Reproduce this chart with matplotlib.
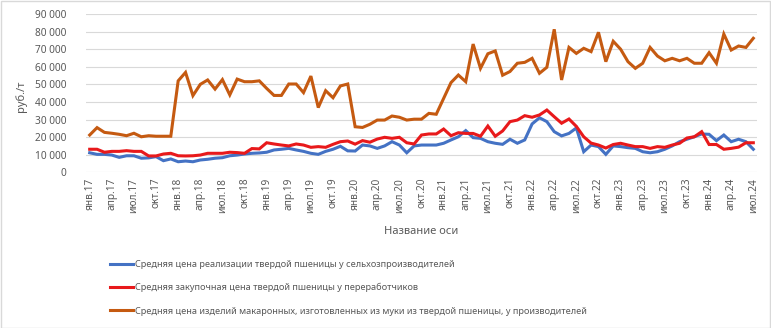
import numpy as np
import matplotlib.pyplot as plt
from matplotlib.ticker import FuncFormatter
from matplotlib.patches import Rectangle

plt.rcParams['font.family'] = ['Noto Sans', 'DejaVu Sans']

# monthly series, Jan 2017 - Jul 2024, rub per tonne
tick_labels = ['янв.17', 'апр.17', 'июл.17', 'окт.17',
               'янв.18', 'апр.18', 'июл.18', 'окт.18',
               'янв.19', 'апр.19', 'июл.19', 'окт.19',
               'янв.20', 'апр.20', 'июл.20', 'окт.20',
               'янв.21', 'апр.21', 'июл.21', 'окт.21',
               'янв.22', 'апр.22', 'июл.22', 'окт.22',
               'янв.23', 'апр.23', 'июл.23', 'окт.23',
               'янв.24', 'апр.24', 'июл.24']

farm_price = [11100, 10200, 10200, 9800, 8500, 9400, 9400, 8000, 8200, 8900, 6600, 7600,
              6000, 6400, 6000, 7000, 7400, 8000, 8300, 9400, 9800, 10400, 10800, 11000,
              11400, 12700, 13100, 13600, 12700, 11900, 10800, 10200, 11900, 13100, 14800, 12200,
              12100, 15500, 15000, 13600, 15000, 17400, 15500, 11100, 15000, 15500, 15500, 15500,
              16500, 18400, 20200, 23700, 19700, 19300, 17400, 16500, 15900, 18800, 16500, 18400,
              27500, 31000, 28800, 23100, 20700, 22100, 25200, 11700, 15500, 14600, 10200, 15000,
              14600, 14000, 13600, 11700, 11100, 11700, 13100, 15000, 17400, 18800, 20200, 21800,
              21600, 18000, 21200, 17400, 18800, 17400, 13100]

processor_price = [13100, 13100, 11400, 11900, 11900, 12300, 11900, 11900, 9300, 9300, 10400, 10800,
                   9400, 9300, 9400, 9800, 10800, 10800, 10800, 11400, 11200, 10800, 13500, 13300,
                   16800, 16100, 15500, 15000, 16100, 15500, 14200, 14600, 14200, 15900, 17400, 17800,
                   16000, 18000, 17100, 18900, 19900, 19300, 19900, 16800, 16100, 21200, 21800, 21800,
                   24600, 20800, 22500, 22100, 22100, 20500, 26300, 20500, 23500, 28800, 29700, 32200,
                   31300, 32600, 35400, 31600, 27900, 30300, 26100, 20200, 16600, 15500, 13800, 15800,
                   16500, 15500, 14600, 14600, 13600, 14600, 14200, 15500, 16500, 19500, 20200, 23100,
                   15800, 15800, 13100, 13600, 14300, 16800, 16800]

pasta_price = [21200, 25400, 22700, 22200, 21600, 20800, 22200, 20200, 20800, 20500, 20500, 20500,
               52000, 56800, 43600, 50000, 52500, 47300, 52700, 44000, 53000, 51500, 51500, 52000,
               47700, 43700, 43700, 50200, 50200, 45300, 54700, 36800, 46400, 42400, 49100, 50200,
               25900, 25500, 27300, 29700, 29700, 32000, 31300, 29700, 30200, 30200, 33500, 33000,
               42000, 51000, 55300, 51500, 72900, 59100, 67400, 69000, 55200, 57300, 62000, 62500,
               64800, 56300, 59700, 81300, 52500, 71000, 67600, 70500, 68600, 79600, 62900, 74500,
               70000, 62900, 59100, 62000, 71000, 66100, 63400, 64800, 63400, 64800, 62000, 62000,
               68000, 62000, 78600, 69500, 71800, 71000, 76200]

labels = ['Средняя цена реализации твердой пшеницы у сельхозпроизводителей',
          'Средняя закупочная цена твердой пшеницы у переработчиков',
          'Средняя цена изделий макаронных, изготовленных из муки из твердой пшеницы, у производителей']
colors = ['#4472C4', '#E8191B', '#C55A11']

txt = '#595959'
x = np.arange(len(pasta_price))

fig = plt.figure(figsize=(7.71, 3.28), dpi=100)
ax = fig.add_axes([86 / 771, 1 - 172.3 / 328, 671 / 771, 158.3 / 328])

lines = []
for vals, c, lab in zip([farm_price, processor_price, pasta_price], colors, labels):
    ln, = ax.plot(x, vals, color=c, lw=2.2, label=lab, solid_joinstyle='miter')
    lines.append(ln)

ax.set_xlim(-0.5, len(x) - 0.5)
ax.set_ylim(0, 90000)
ax.set_yticks(np.arange(0, 90001, 10000))
ax.yaxis.set_major_formatter(FuncFormatter(lambda v, p: f'{int(v):,}'.replace(',', ' ')))
ax.set_xticks(x[::3])
ax.set_xticklabels(tick_labels, rotation=90, va='top', ha='center')
ax.tick_params(axis='both', length=0, labelsize=7.3, colors=txt)
ax.tick_params(axis='y', pad=14)
ax.tick_params(axis='x', pad=4)
ax.grid(axis='y', color='#d9d9d9', lw=0.8)
ax.set_axisbelow(True)
for s in ax.spines.values():
    s.set_visible(False)

ax.set_ylabel('руб./т', color=txt, fontsize=8)
ax.yaxis.set_label_coords(-0.088, 0.48)
fig.text(421 / 771, 1 - 232 / 328, 'Название оси', color=txt, fontsize=8, ha='center', va='center')

leg = fig.legend(handles=lines, loc='upper left', bbox_to_anchor=(110 / 771, 1 - 260 / 328),
                 frameon=False, fontsize=6.6, handlelength=2.5, handletextpad=0.2,
                 labelspacing=1.55, borderpad=0, borderaxespad=0)
for t in leg.get_texts():
    t.set_color(txt)

fig.patches.append(Rectangle((0.5 / 771, 0.5 / 328), 769.5 / 771, 326.5 / 328, transform=fig.transFigure,
                             fill=False, ec='#d9d9d9', lw=1))

fig.savefig('out.png', dpi=100)
